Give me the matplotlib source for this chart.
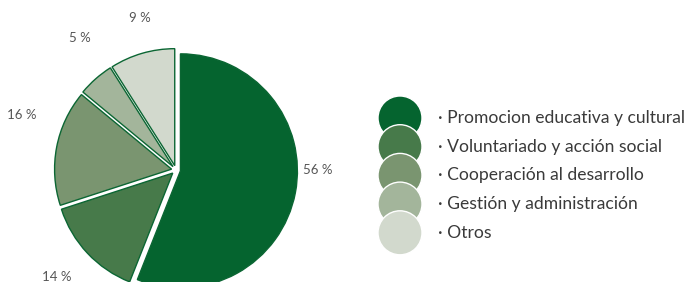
import matplotlib.pyplot as plt
from matplotlib.patches import Circle

# data
categories = ["Promocion educativa y cultural", "Voluntariado y acción social",
              "Cooperación al desarrollo", "Gestión y administración", "Otros"]
values = [56, 14, 16, 5, 9]
colors = ["#05642f", "#477a4a", "#7a9570", "#a3b59b", "#d2d9cd"]
# where the % labels sit (pixel coords of the picture)
label_pos = [(318, 170), (57, 277), (22, 115), (80, 38), (140, 18)]

W, H = 688, 282
fig = plt.figure(figsize=(W / 100, H / 100), dpi=100)
ax = fig.add_axes([0, 0, 1, 1])

# pie, center in pixel space (y flipped so pie direction stays normal)
cx, cy, r = 176, H - 170, 117
ax.pie(values, colors=colors, startangle=90, counterclock=False,
       explode=[4.5] * len(values), center=(cx, cy), radius=r, frame=True,
       wedgeprops=dict(edgecolor="#0b6633", linewidth=1.0))

font = ["Lato", "DejaVu Sans"]
for v, (x, y) in zip(values, label_pos):
    ax.text(x, H - y, f"{v} %", ha="center", va="center", fontsize=9.5,
            color="#555555", family=font)

# legend circles + texts
lx, ly0, step, cr = 400, 118, 28.7, 22
for i, (name, c) in enumerate(zip(categories, colors)):
    y = H - (ly0 + i * step)
    ax.add_patch(Circle((lx, y), cr, facecolor=c, edgecolor="white", linewidth=1, zorder=3 + i))
    ax.text(438, y, "· " + name, ha="left", va="center", fontsize=12.6,
            color="#3a3a3a", family=font)

ax.set_xlim(0, W)
ax.set_ylim(0, H)
ax.set_aspect("equal")
ax.axis("off")

plt.savefig("out.png", dpi=100)
